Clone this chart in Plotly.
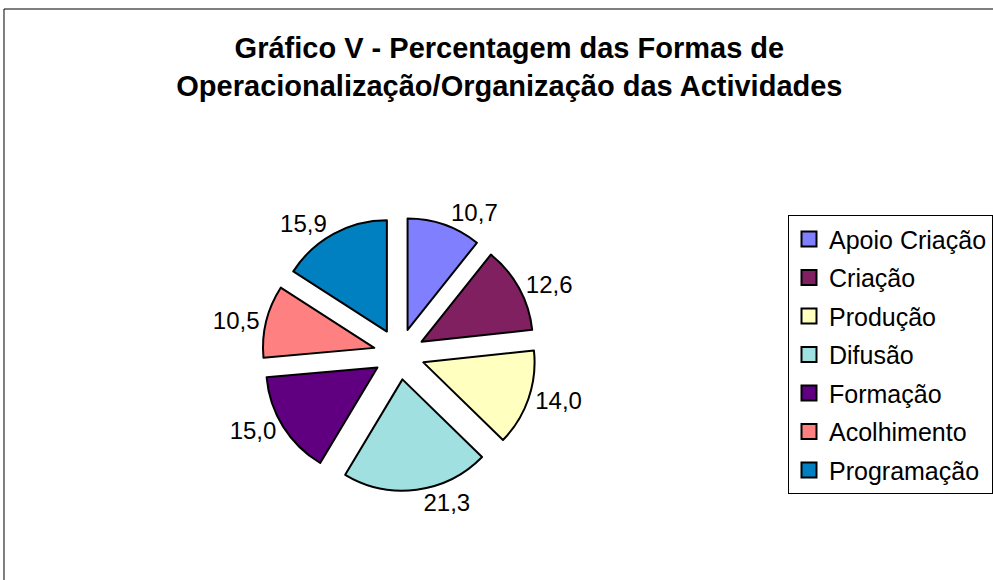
import plotly.graph_objects as go

categories = ["Apoio Criação", "Criação", "Produção", "Difusão", "Formação", "Acolhimento", "Programação"]
values = [10.7, 12.6, 14.0, 21.3, 15.0, 10.5, 15.9]
colors = ["#8080FF", "#802060", "#FFFFC0", "#A0E0E0", "#600080", "#FF8080", "#0080C0"]

FONT = "Liberation Sans, Arial, sans-serif"

fig = go.Figure()

fig.add_trace(
    go.Pie(
        labels=categories,
        values=values,
        sort=False,
        direction="clockwise",
        rotation=0,
        pull=0.23,
        marker=dict(colors=colors, line=dict(color="black", width=2)),
        texttemplate="%{value:.1f}",
        textposition="outside",
        textfont=dict(family=FONT, size=24, color="black"),
        domain=dict(x=[0.2644, 0.5403], y=[0.1534, 0.6259]),
        hoverinfo="label+value",
        showlegend=False,
    )
)

# legend entries drawn as square markers so each can sit in its own group
for cat, col in zip(categories, colors):
    fig.add_trace(
        go.Scatter(
            x=[None],
            y=[None],
            mode="markers",
            name=cat,
            legendgroup=cat,
            marker=dict(symbol="square", size=15, color=col, line=dict(color="black", width=2)),
            hoverinfo="skip",
        )
    )

fig.update_layout(
    width=993,
    height=580,
    margin=dict(l=0, r=0, t=0, b=0),
    paper_bgcolor="white",
    plot_bgcolor="white",
    separators=",.",
    font=dict(family=FONT, color="black"),
    xaxis=dict(visible=False),
    yaxis=dict(visible=False),
    title=dict(
        text="<b>Gráfico V - Percentagem das Formas de<br>Operacionalização/Organização das Actividades</b>",
        x=0.513,
        xanchor="center",
        y=0.90,
        yanchor="top",
        font=dict(family=FONT, size=29, color="black"),
    ),
    legend=dict(
        x=0.794,
        xanchor="left",
        y=0.629,
        yanchor="top",
        bgcolor="white",
        bordercolor="black",
        borderwidth=1,
        tracegroupgap=3,
        itemclick=False,
        font=dict(family=FONT, size=25, color="black"),
    ),
    shapes=[
        dict(
            type="rect",
            xref="paper",
            yref="paper",
            x0=4 / 993,
            x1=1.02,
            y0=-0.02,
            y1=1 - 9 / 580,
            line=dict(color="black", width=1),
        )
    ],
)

fig.write_html(
    "out.html",
    config={"displayModeBar": False},
    post_script="document.body.style.margin='0px';",
)
